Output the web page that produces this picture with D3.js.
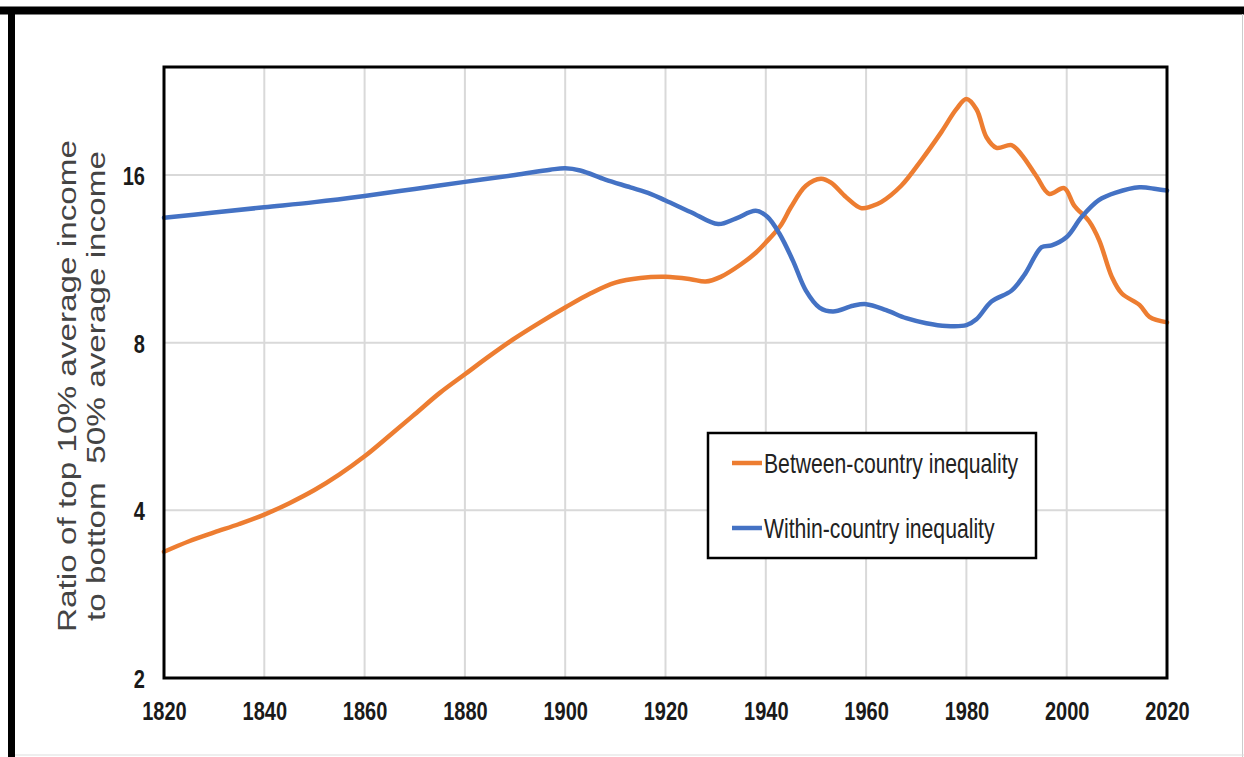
<!DOCTYPE html>
<html>
<head>
<meta charset="utf-8">
<script src="https://cdn.jsdelivr.net/npm/d3@7"></script>
<style>
  body { margin: 0; background: #fff; }
  svg { display: block; font-family: "Liberation Sans", Arial, sans-serif; }
</style>
</head>
<body>
<div id="chart"></div>
<script>
// années et valeurs
const betweenYears = [1820, 1825, 1830, 1835, 1840, 1845, 1850, 1855, 1860, 1865, 1870, 1875, 1880, 1885, 1890, 1895, 1900, 1905, 1910, 1915, 1920, 1925, 1928, 1931, 1935, 1938, 1940, 1943, 1945, 1948, 1951, 1953, 1956, 1959, 1961, 1963, 1967, 1971, 1975, 1978, 1980, 1982, 1984, 1986, 1989, 1991, 1994, 1996.5, 1999.5, 2001.5, 2004.5, 2006.5, 2009, 2011, 2014.5, 2016.5, 2020];
const betweenValues = [3.37, 3.52, 3.65, 3.78, 3.93, 4.12, 4.35, 4.64, 5.0, 5.45, 5.95, 6.5, 7.02, 7.58, 8.15, 8.7, 9.25, 9.8, 10.25, 10.45, 10.5, 10.4, 10.3, 10.5, 11.05, 11.6, 12.1, 13.0, 14.0, 15.3, 15.75, 15.5, 14.6, 13.95, 14.05, 14.3, 15.3, 17.0, 19.1, 21.0, 21.9, 21.0, 18.7, 17.9, 18.1, 17.4, 15.9, 14.8, 15.15, 14.1, 13.2, 12.2, 10.5, 9.8, 9.35, 8.9, 8.7];

const withinYears = [1820, 1830, 1840, 1850, 1860, 1870, 1880, 1890, 1897, 1900, 1903, 1908, 1913, 1917, 1920, 1925, 1930.5, 1934, 1938, 1940.3, 1942.7, 1945.4, 1948, 1950.7, 1953.4, 1957.4, 1960, 1964, 1968, 1972, 1976, 1980, 1982, 1985, 1989, 1991.7, 1995, 1997, 2000, 2003, 2006.4, 2009.8, 2014.5, 2017.8, 2020];
const withinValues = [13.4, 13.7, 14.0, 14.3, 14.67, 15.1, 15.55, 16.0, 16.35, 16.45, 16.3, 15.7, 15.2, 14.8, 14.4, 13.73, 13.06, 13.36, 13.8, 13.46, 12.56, 11.23, 9.92, 9.25, 9.1, 9.32, 9.38, 9.15, 8.85, 8.67, 8.57, 8.6, 8.81, 9.48, 9.92, 10.63, 11.87, 11.96, 12.38, 13.46, 14.42, 14.87, 15.2, 15.1, 15.0];

const xTicks = [1820, 1840, 1860, 1880, 1900, 1920, 1940, 1960, 1980, 2000, 2020];
const yTicks = [2, 4, 8, 16];
const seriesNames = ["Between-country inequality", "Within-country inequality"];
const seriesColors = ["#ED7D31", "#4472C4"];
const titleLines = ["Ratio of top 10% average income", "to bottom  50% average income"];

const W = 1244, H = 757;
const plot = {left: 164, top: 67, right: 1167, bottom: 678};
const squeeze = 0.77; // le texte d'origine est tassé horizontalement

const svg = d3.select("#chart").append("svg")
    .attr("width", W)
    .attr("height", H);

svg.append("rect").attr("width", W).attr("height", H).attr("fill", "#fff");

// cadre extérieur (noir en haut et à gauche)
svg.append("line").attr("x1", 0).attr("x2", W).attr("y1", 10.5).attr("y2", 10.5)
    .attr("stroke", "#000").attr("stroke-width", 8);
svg.append("line").attr("x1", 11.5).attr("x2", 11.5).attr("y1", 7).attr("y2", H)
    .attr("stroke", "#000").attr("stroke-width", 7);
svg.append("line").attr("x1", W - 1.5).attr("x2", W - 1.5).attr("y1", 14).attr("y2", H)
    .attr("stroke", "#ccc").attr("stroke-width", 1);
svg.append("line").attr("x1", 15).attr("x2", W).attr("y1", H - 2).attr("y2", H - 2)
    .attr("stroke", "#ddd").attr("stroke-width", 1);

const x = d3.scaleLinear()
    .domain([1820, 2020])
    .range([plot.left, plot.right]);

const y = d3.scaleLog()
    .base(2)
    .domain([2, 25])
    .range([plot.bottom, plot.top]);

// grille
svg.append("g")
    .selectAll("line")
    .data(xTicks.slice(1, -1))
    .join("line")
    .attr("x1", d => x(d)).attr("x2", d => x(d))
    .attr("y1", plot.top).attr("y2", plot.bottom)
    .attr("stroke", "#d9d9d9").attr("stroke-width", 2);

svg.append("g")
    .selectAll("line")
    .data(yTicks.slice(1))
    .join("line")
    .attr("x1", plot.left).attr("x2", plot.right)
    .attr("y1", d => y(d)).attr("y2", d => y(d))
    .attr("stroke", "#d9d9d9").attr("stroke-width", 2);

// axes
const xAxis = svg.append("g")
    .attr("transform", `translate(0, ${plot.bottom})`)
    .call(d3.axisBottom(x).tickValues(xTicks).tickSize(0).tickFormat(d3.format("d")));
xAxis.select(".domain").remove();
xAxis.selectAll("text")
    .attr("y", 24)
    .attr("dy", "0.71em")
    .attr("transform", `scale(${squeeze},1)`)
    .attr("font-size", 26)
    .attr("font-weight", "bold")
    .attr("font-family", "'Liberation Sans', Arial, sans-serif")
    .attr("fill", "#1a1a1a");

const yAxis = svg.append("g")
    .attr("transform", `translate(${plot.left}, 0)`)
    .call(d3.axisLeft(y).tickValues(yTicks).tickSize(0).tickFormat(d3.format("d")));
yAxis.select(".domain").remove();
yAxis.selectAll("text")
    .attr("x", -19 / squeeze)
    .attr("dy", "0.36em")
    .attr("transform", `scale(${squeeze},1)`)
    .attr("font-size", 26)
    .attr("font-weight", "bold")
    .attr("font-family", "'Liberation Sans', Arial, sans-serif")
    .attr("fill", "#1a1a1a");

// courbes
const series = [
    betweenYears.map((d, i) => ({year: d, value: betweenValues[i]})),
    withinYears.map((d, i) => ({year: d, value: withinValues[i]}))
];

const line = d3.line()
    .x(d => x(d.year))
    .y(d => y(d.value))
    .curve(d3.curveCatmullRom.alpha(0.5));

svg.append("g")
    .selectAll("path")
    .data(series)
    .join("path")
    .attr("fill", "none")
    .attr("stroke", (d, i) => seriesColors[i])
    .attr("stroke-width", 4.5)
    .attr("stroke-linejoin", "round")
    .attr("stroke-linecap", "round")
    .attr("d", line);

// cadre du graphique
svg.append("rect")
    .attr("x", plot.left).attr("y", plot.top)
    .attr("width", plot.right - plot.left)
    .attr("height", plot.bottom - plot.top)
    .attr("fill", "none")
    .attr("stroke", "#000")
    .attr("stroke-width", 3);

// titre de l'axe y
const title = svg.append("g")
    .attr("transform", `translate(0, 386) rotate(-90) scale(1.28,1)`);
title.selectAll("text")
    .data(titleLines)
    .join("text")
    .attr("x", 0)
    .attr("y", (d, i) => 76 + i * 29)
    .attr("text-anchor", "middle")
    .attr("font-size", 26)
    .attr("fill", "#444")
    .style("white-space", "pre")
    .text(d => d);

// légende
const legend = svg.append("g").attr("transform", "translate(708, 433)");
legend.append("rect")
    .attr("width", 328).attr("height", 125)
    .attr("fill", "#fff")
    .attr("stroke", "#000")
    .attr("stroke-width", 2.5);

const item = legend.selectAll("g.item")
    .data(seriesNames)
    .join("g")
    .attr("class", "item")
    .attr("transform", (d, i) => `translate(0, ${30 + i * 65})`);

item.append("line")
    .attr("x1", 24).attr("x2", 54)
    .attr("stroke", (d, i) => seriesColors[i])
    .attr("stroke-width", 4.5);

item.append("text")
    .attr("x", 56 / squeeze)
    .attr("dy", "0.36em")
    .attr("transform", `scale(${squeeze},1)`)
    .attr("font-size", 27.5)
    .attr("fill", "#222")
    .text(d => d);
</script>
</body>
</html>
